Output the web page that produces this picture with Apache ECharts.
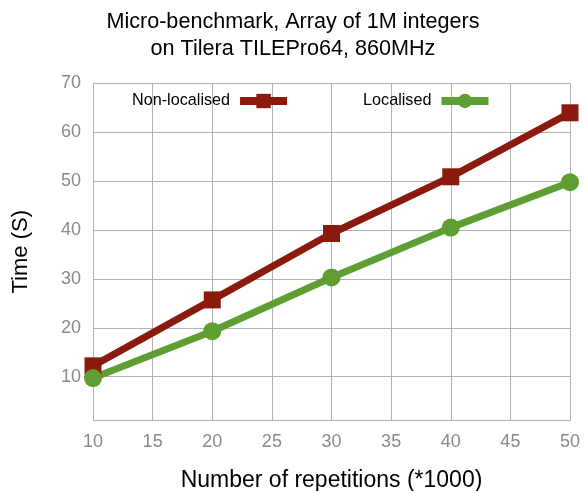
<!DOCTYPE html>
<html>
<head>
<meta charset="utf-8">
<script src="https://cdn.jsdelivr.net/npm/echarts@6/dist/echarts.min.js"></script>
<style>html,body{margin:0;padding:0;background:#fff}#c{width:586px;height:491px}</style>
</head>
<body>
<div id="c"></div>
<script>
var repetitions = [10, 20, 30, 40, 50];
var nonLocalised = [12.2, 25.7, 39.3, 50.9, 64.0];
var localised = [9.7, 19.3, 30.3, 40.5, 49.8];
var seriesNames = ['Non-localised', 'Localised'];
var titleText = 'Micro-benchmark, Array of 1M integers\non Tilera TILEPro64, 860MHz';
var xName = 'Number of repetitions (*1000)';
var yName = 'Time (S)';

var FONT = '"Liberation Sans", Arial, sans-serif';
var chart = echarts.init(document.getElementById('c'), null, {renderer: 'canvas'});
function pairs(xs, ys) { return xs.map(function (x, i) { return [x, ys[i]]; }); }
chart.setOption({
  animation: false,
  backgroundColor: '#fff',
  title: {
    text: titleText,
    left: 'center',
    top: 3,
    textStyle: {fontFamily: FONT, fontSize: 21.6, fontWeight: 'normal', color: '#000', lineHeight: 27.5}
  },
  legend: {
    left: 127,
    top: 88,
    align: 'right',
    itemWidth: 47,
    itemHeight: 18,
    itemGap: 72,
    lineStyle: {width: 8},
    textStyle: {fontFamily: FONT, fontSize: 16.2, color: '#000', padding: [0, 5, 0, 0]},
    data: seriesNames
  },
  grid: {left: 93, right: 16, top: 83.5, bottom: 71, containLabel: false, outerBoundsMode: 'none'},
  xAxis: {
    type: 'value',
    min: 10, max: 50, interval: 5,
    name: xName,
    nameLocation: 'middle',
    nameGap: 49,
    nameTextStyle: {fontFamily: FONT, fontSize: 23, color: '#000'},
    axisLine: {show: true, lineStyle: {color: '#b3b3b3', width: 1}},
    axisTick: {show: false},
    axisLabel: {fontFamily: FONT, fontSize: 18, color: '#8a8a8a', margin: 13},
    splitLine: {show: true, lineStyle: {color: '#b3b3b3', width: 1}}
  },
  yAxis: {
    type: 'value',
    min: 1.12, max: 70, splitNumber: 7,
    name: yName,
    nameLocation: 'middle',
    nameGap: 61,
    nameTextStyle: {fontFamily: FONT, fontSize: 22, color: '#000'},
    axisLine: {show: true, lineStyle: {color: '#b3b3b3', width: 1}},
    axisTick: {show: false},
    axisLabel: {fontFamily: FONT, fontSize: 18, color: '#8a8a8a', margin: 12, showMinLabel: false,
      formatter: function (v) { return Math.round(v) === v ? String(v) : ''; }},
    splitLine: {show: true, lineStyle: {color: '#b3b3b3', width: 1}}
  },
  series: [
    {
      name: seriesNames[0], type: 'line', data: pairs(repetitions, nonLocalised),
      symbol: 'rect', symbolSize: 17,
      lineStyle: {color: '#8b1a0e', width: 7},
      itemStyle: {color: '#8b1a0e'}
    },
    {
      name: seriesNames[1], type: 'line', data: pairs(repetitions, localised),
      symbol: 'circle', symbolSize: 18,
      lineStyle: {color: '#5e9e32', width: 7},
      itemStyle: {color: '#5e9e32'}
    }
  ]
});
</script>
</body>
</html>
